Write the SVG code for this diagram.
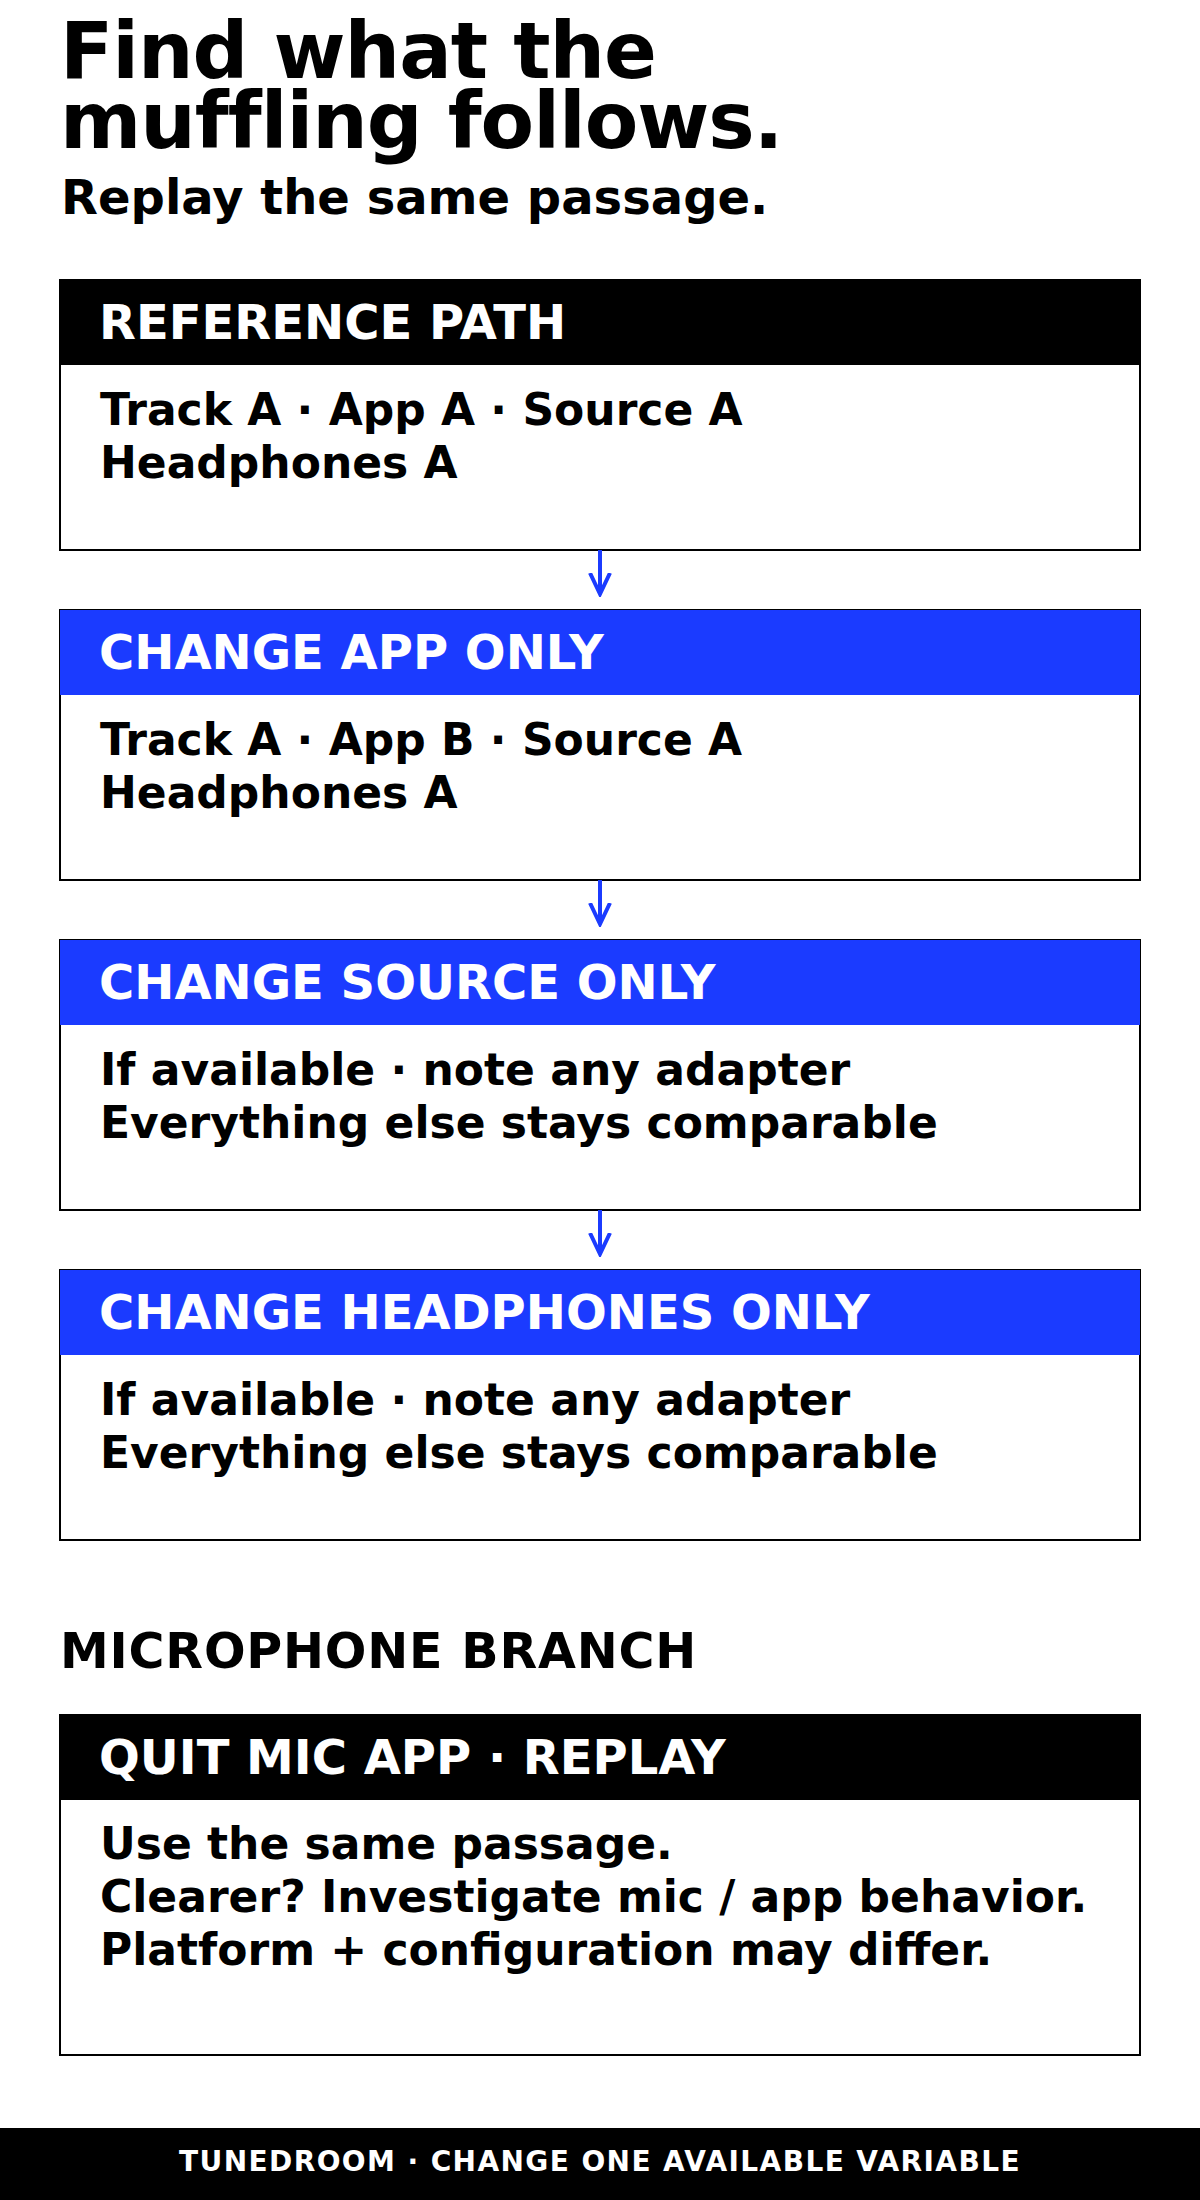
<svg xmlns="http://www.w3.org/2000/svg" width="1200" height="2200" viewBox="0 0 1200 2200">
<defs>
<style>
text{font-family:"DejaVu Sans","Liberation Sans",sans-serif;font-weight:bold;}
.title{font-size:78px;fill:#000;letter-spacing:-1px;}
.sub{font-size:48px;fill:#000;}
.box{fill:#fff;stroke:#000;stroke-width:2;}
.hdark{fill:#000;}
.hblue{fill:#1b3bff;}
.htext{font-size:48px;fill:#fff;}
.body{font-size:44px;fill:#000;}
.sect{font-size:49px;fill:#000;letter-spacing:0.8px;}
.foot{font-size:28px;fill:#fff;letter-spacing:1.4px;}
.conn{stroke:#1b3bff;stroke-width:4;fill:none;}
</style>
<marker id="ah" viewBox="0 0 24 24" refX="21" refY="12" markerWidth="24" markerHeight="24" markerUnits="userSpaceOnUse" orient="auto">
<path d="M0,2 L21,12 L0,22" fill="none" stroke="#1b3bff" stroke-width="4"/>
</marker>
</defs>
<rect x="0" y="0" width="1200" height="2200" fill="#fff"/>

<g id="heading">
<text class="title" x="60" y="78">Find what the</text>
<text class="title" x="60" y="148">muffling follows.</text>
<text class="sub" x="61" y="214">Replay the same passage.</text>
</g>

<g id="node-reference">
<rect class="box" x="60" y="280" width="1080" height="270"/>
<rect class="hdark" x="60" y="280" width="1080" height="85"/>
<text class="htext" x="99" y="339">REFERENCE PATH</text>
<text class="body" x="100" y="425">Track A · App A · Source A</text>
<text class="body" x="100" y="478">Headphones A</text>
</g>

<g id="node-app">
<rect class="box" x="60" y="610" width="1080" height="270"/>
<rect class="hblue" x="60" y="610" width="1080" height="85"/>
<text class="htext" x="99" y="669">CHANGE APP ONLY</text>
<text class="body" x="100" y="755">Track A · App B · Source A</text>
<text class="body" x="100" y="808">Headphones A</text>
</g>

<g id="node-source">
<rect class="box" x="60" y="940" width="1080" height="270"/>
<rect class="hblue" x="60" y="940" width="1080" height="85"/>
<text class="htext" x="99" y="999">CHANGE SOURCE ONLY</text>
<text class="body" x="100" y="1085">If available · note any adapter</text>
<text class="body" x="100" y="1138">Everything else stays comparable</text>
</g>

<g id="node-headphones">
<rect class="box" x="60" y="1270" width="1080" height="270"/>
<rect class="hblue" x="60" y="1270" width="1080" height="85"/>
<text class="htext" x="99" y="1329">CHANGE HEADPHONES ONLY</text>
<text class="body" x="100" y="1415">If available · note any adapter</text>
<text class="body" x="100" y="1468">Everything else stays comparable</text>
</g>

<g id="connectors">
<line class="conn" x1="600" y1="550" x2="600" y2="594" marker-end="url(#ah)"/>
<line class="conn" x1="600" y1="880" x2="600" y2="924" marker-end="url(#ah)"/>
<line class="conn" x1="600" y1="1210" x2="600" y2="1254" marker-end="url(#ah)"/>
</g>

<g id="section-mic">
<text class="sect" x="60" y="1668">MICROPHONE BRANCH</text>
</g>

<g id="node-mic">
<rect class="box" x="60" y="1715" width="1080" height="340"/>
<rect class="hdark" x="60" y="1715" width="1080" height="85"/>
<text class="htext" x="99" y="1774">QUIT MIC APP · REPLAY</text>
<text class="body" x="100" y="1859">Use the same passage.</text>
<text class="body" x="100" y="1912">Clearer? Investigate mic / app behavior.</text>
<text class="body" x="100" y="1965">Platform + configuration may differ.</text>
</g>

<g id="footer">
<rect x="0" y="2128" width="1200" height="72" fill="#000"/>
<text class="foot" x="600" y="2171" text-anchor="middle">TUNEDROOM · CHANGE ONE AVAILABLE VARIABLE</text>
</g>
</svg>
